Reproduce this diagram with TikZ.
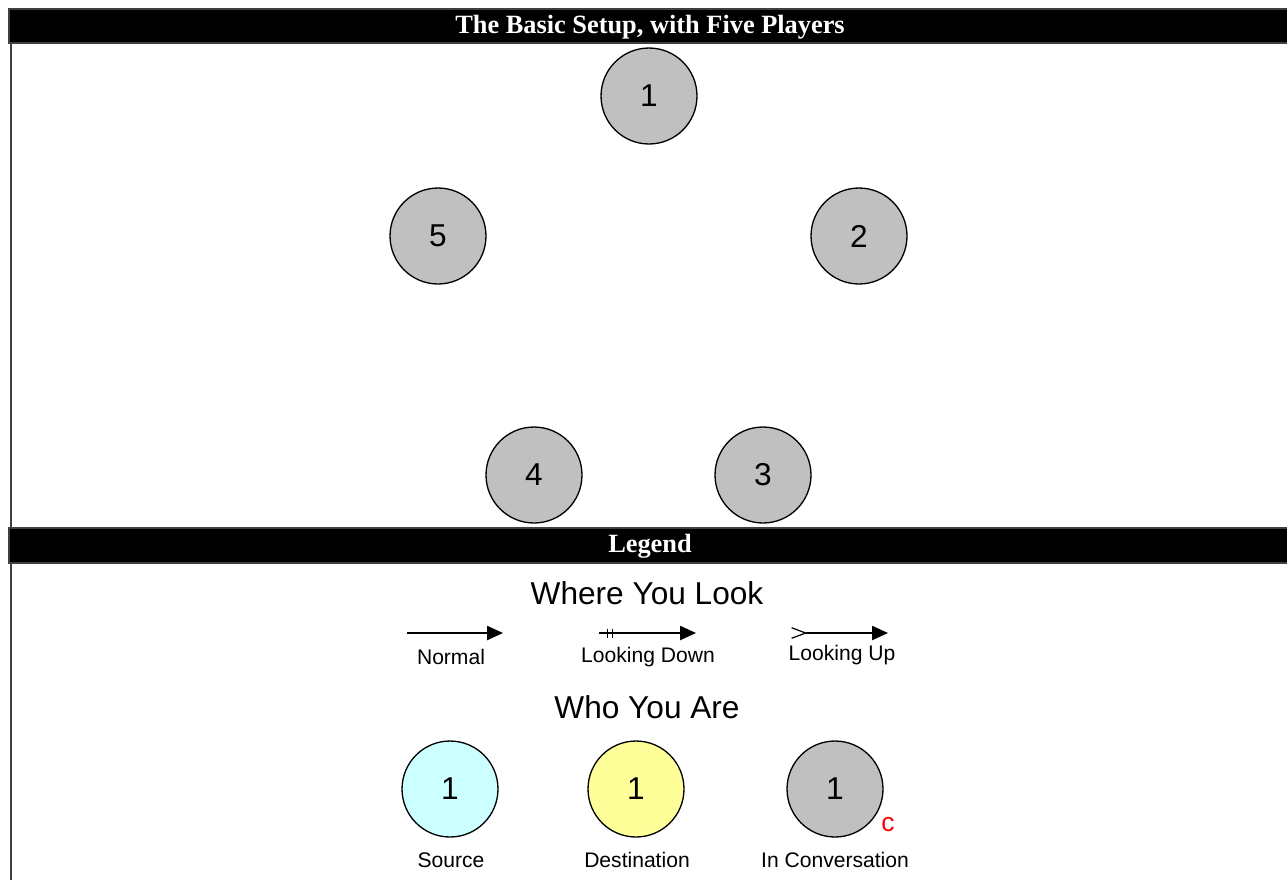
\documentclass[tikz,border=0pt]{standalone}
\usepackage{fontspec}
\setmainfont{Liberation Sans}
\newfontfamily\headfont{Liberation Serif}
\usepackage{xcolor}
\definecolor{plgray}{RGB}{192,192,192}
\definecolor{plcyan}{RGB}{204,255,255}
\definecolor{plyellow}{RGB}{255,255,153}
\definecolor{plframe}{RGB}{64,64,64}
\usetikzlibrary{arrows.meta, positioning, decorations.markings}

\begin{document}
\begin{tikzpicture}[x=0.02cm, y=-0.02cm,
  player/.style={circle, draw=black, line width=0.75pt, fill=plgray,
                 minimum size=1.92cm, inner sep=0pt, font=\fontsize{18}{18}\selectfont},
  headbar/.style={fill=black, draw=plframe, line width=0.7pt},
  headtext/.style={text=white, font=\headfont\bfseries\fontsize{15}{15}\selectfont},
  lbl/.style={font=\fontsize{12}{13}\selectfont},
  heading/.style={font=\fontsize{18}{18}\selectfont},
  look/.style={line width=0.9pt, -{Triangle[length=9pt,width=8pt]}}]
  \useasboundingbox (0,0) rectangle (1287,880);

  % Frame and title bars
  \draw[plframe, line width=1.1pt] (11,43) -- (11,880);
  \draw[headbar] (9,9) rectangle (1290,43);
  \node[headtext] (title) at (650,27) {The Basic Setup, with Five Players};
  \draw[headbar] (9,528) rectangle (1290,563);
  \node[headtext] (legend) at (650,546) {Legend};

  % Five players
  \foreach \n/\x/\y in {1/649/96, 2/859/236, 3/763/475, 4/534/475, 5/438/236} {
      \node[player] (p\n) at (\x,\y) {\n};
  }

  % Where you look
  \node[heading] (look) at (647,593) {Where You Look};
  \coordinate (na) at (407,633);  \coordinate (nb) at (503,633);
  \coordinate (da) at (599,633);  \coordinate (db) at (696,633);
  \coordinate (ua) at (791,633);  \coordinate (ub) at (888,633);
  \draw[look] (na) -- (nb);
  \draw[look, postaction={decorate}, decoration={markings,
        mark=at position 0.09 with {\draw[-, line width=0.7pt] (0,-4.5) -- (0,4.5);},
        mark=at position 0.14 with {\draw[-, line width=0.7pt] (0,-4.5) -- (0,4.5);}}]
        (da) -- (db);
  \draw[look, {Straight Barb[reversed, length=8pt, width=6pt, line width=0.7pt]}-{Triangle[length=9pt,width=8pt]}]
        (ua) -- (ub);
  \node[lbl] (normal) at (451,657) {Normal};
  \node[lbl] (down) at (648,657) {Looking Down};
  \node[lbl] (up) at (842,655) {Looking Up};

  % Who you are
  \node[heading] (who) at (647,707) {Who You Are};
  \node[player, fill=plcyan] (src) at (450,789) {1};
  \node[player, fill=plyellow] (dst) at (636,789) {1};
  \node[player] (conv) at (835,789) {1};
  \node[font=\fontsize{15}{15}\selectfont, text=red] (cmark) at (888,825) {c};
  \node[lbl] at (451,860) {Source};
  \node[lbl] at (637,860) {Destination};
  \node[lbl] at (835,860) {In Conversation};
\end{tikzpicture}
\end{document}
